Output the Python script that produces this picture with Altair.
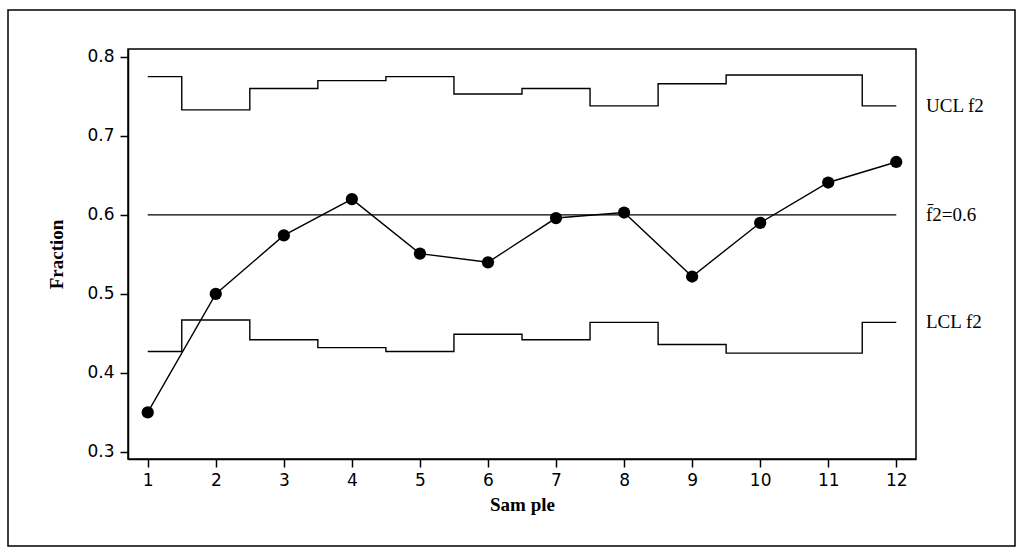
import altair as alt
import pandas as pd

samples = [1, 2, 3, 4, 5, 6, 7, 8, 9, 10, 11, 12]
fraction = [0.350, 0.500, 0.574, 0.620, 0.551, 0.540, 0.596, 0.603, 0.522, 0.590, 0.641, 0.667]
ucl = [0.775, 0.733, 0.760, 0.770, 0.775, 0.753, 0.760, 0.738, 0.766, 0.777, 0.777, 0.738]
lcl = [0.427, 0.467, 0.442, 0.432, 0.427, 0.449, 0.442, 0.464, 0.436, 0.425, 0.425, 0.464]
center = 0.6
x_ticks = samples
y_ticks = [0.3, 0.4, 0.5, 0.6, 0.7, 0.8]
labels = ["UCL f2", "f\u03042=0.6", "LCL f2"]

XDOM = [0.71, 12.29]
YDOM = [0.291, 0.810]

pts = pd.DataFrame({"Sample": samples, "Fraction": fraction})

# step vertices: start at first sample, switch halfway between samples, end at last sample
step_x = [samples[0]] + [s - 0.5 for s in samples[1:]] + [samples[-1]]
steps = pd.DataFrame({
    "x": step_x * 2,
    "y": ucl + [ucl[-1]] + lcl + [lcl[-1]],
    "line": ["UCL"] * len(step_x) + ["LCL"] * len(step_x),
})

cl = pd.DataFrame({"x": [samples[0]], "x2": [samples[-1]], "y": [center]})
lab = pd.DataFrame({"x": [XDOM[1]] * 3, "y": [ucl[-1], center, lcl[-1]], "t": labels})

xs = alt.Scale(domain=XDOM, nice=False, zero=False)
ys = alt.Scale(domain=YDOM, nice=False, zero=False)

base_x_axis = alt.Axis(values=x_ticks, title="Sam ple", grid=False, tickSize=8, labelPadding=5,
                       titlePadding=7, format="d")
base_y_axis = alt.Axis(values=y_ticks, title="Fraction", grid=False, tickSize=8, labelPadding=6,
                       titlePadding=20, format=".1f")

step_lines = alt.Chart(steps).mark_line(interpolate="step-after", color="black", strokeWidth=1.4).encode(
    x=alt.X("x:Q", scale=xs, axis=base_x_axis),
    y=alt.Y("y:Q", scale=ys, axis=base_y_axis),
    detail="line:N",
)

center_rule = alt.Chart(cl).mark_rule(color="black", strokeWidth=1.4).encode(
    x=alt.X("x:Q", scale=xs), x2="x2:Q", y=alt.Y("y:Q", scale=ys)
)

line = alt.Chart(pts).mark_line(color="black", strokeWidth=1.4).encode(
    x=alt.X("Sample:Q", scale=xs), y=alt.Y("Fraction:Q", scale=ys)
)
dots = alt.Chart(pts).mark_point(shape="circle", filled=True, color="black", size=150, opacity=1).encode(
    x=alt.X("Sample:Q", scale=xs), y=alt.Y("Fraction:Q", scale=ys)
)

texts = alt.Chart(lab).mark_text(align="left", baseline="middle", dx=10, font="Liberation Serif",
                                 fontSize=19, color="black", clip=False).encode(
    x=alt.X("x:Q", scale=xs), y=alt.Y("y:Q", scale=ys), text="t:N"
)

border = alt.Chart(pd.DataFrame({"a": [0]})).mark_rect(fill=None, stroke="black", strokeWidth=1.5, clip=False).encode(
    x=alt.value(-120), x2=alt.value(887), y=alt.value(-39), y2=alt.value(497)
)

chart = alt.layer(border, step_lines, center_rule, line, dots, texts).properties(
    width=788, height=410,
    autosize=alt.AutoSizeParams(type="none"),
    padding={"left": 128, "top": 49, "right": 108, "bottom": 97},
    background="white",
).configure_view(stroke="black", strokeWidth=1.5).configure_axis(
    domainColor="black", domainWidth=1.5, tickColor="black", tickWidth=1.5,
    labelFont="DejaVu Sans", labelFontSize=17, labelColor="black",
    titleFont="Liberation Serif", titleFontSize=19, titleFontWeight="bold", titleColor="black",
)

chart.save("out.html", embed_options={"renderer": "svg", "actions": False})
